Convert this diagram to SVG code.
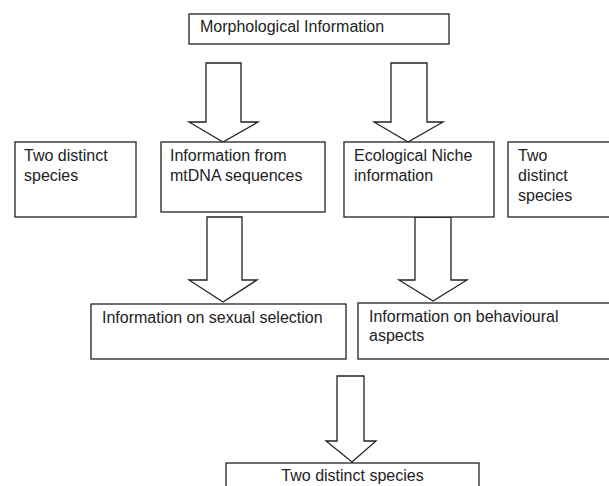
<svg xmlns="http://www.w3.org/2000/svg" width="609" height="486" viewBox="0 0 609 486">
<style>
.box{fill:#fff;stroke:#222;stroke-width:1.3}
.arr{fill:#fff;stroke:#222;stroke-width:1.3;stroke-linejoin:miter}
text{font-family:"Liberation Sans",Arial,sans-serif;font-size:16px;fill:#222}
</style>
<rect width="609" height="486" fill="#fff"/>
<g id="connectors">
<polygon class="arr" points="206,63 241,63 241,122 258,122 223,142 189,122 206,122"/>
<polygon class="arr" points="391,63 427,63 427,122 443,122 408,142 374,122 391,122"/>
<polygon class="arr" points="207,217 242,217 242,280 257,280 223,302 189,280 207,280"/>
<polygon class="arr" points="415,217 451,217 451,280 467,280 433,301 399,280 415,280"/>
<polygon class="arr" points="337,376 364,376 364,441 376,441 352,462 326,441 337,441"/>
</g>
<g id="morph">
<rect class="box" x="189" y="14" width="260" height="30"/>
<text x="200" y="32">Morphological Information</text>
</g>
<g id="two-left">
<rect class="box" x="15" y="142" width="121" height="75"/>
<text x="24" y="161">Two distinct</text>
<text x="24" y="181">species</text>
</g>
<g id="mtdna">
<rect class="box" x="161" y="142" width="164" height="70"/>
<text x="170" y="161">Information from</text>
<text x="170" y="181">mtDNA sequences</text>
</g>
<g id="eco">
<rect class="box" x="344" y="142" width="150" height="75"/>
<text x="354" y="161">Ecological Niche</text>
<text x="354" y="181">information</text>
</g>
<g id="two-right">
<rect class="box" x="508" y="142" width="110" height="75"/>
<text x="518" y="161">Two</text>
<text x="518" y="181">distinct</text>
<text x="518" y="201">species</text>
</g>
<g id="sexual">
<rect class="box" x="91" y="304" width="255" height="55"/>
<text x="102" y="323">Information on sexual selection</text>
</g>
<g id="behaviour">
<rect class="box" x="358" y="303" width="260" height="56"/>
<text x="369" y="322">Information on behavioural</text>
<text x="369" y="341">aspects</text>
</g>
<g id="two-bottom">
<rect class="box" x="226" y="463" width="253" height="30"/>
<text x="352.5" y="481" text-anchor="middle">Two distinct species</text>
</g>
</svg>
